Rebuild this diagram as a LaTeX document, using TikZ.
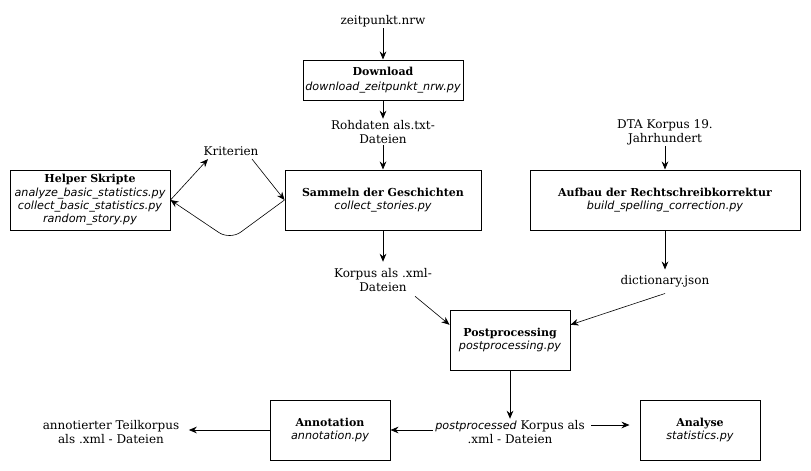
\documentclass[tikz,border=0pt]{standalone}
\usepackage{fontspec}
\setmainfont{DejaVu Serif}
\newfontfamily\itf{DejaVu Sans}
\usetikzlibrary{arrows.meta,calc}
\newcommand{\pyname}[1]{{\fontsize{8.4}{9.8}\itf\itshape #1}}
\newcommand{\boxtitle}[1]{{\fontsize{8.25}{9.8}\selectfont\bfseries #1}}
\tikzset{
  every node/.style={font=\fontsize{9}{10.5}\selectfont, align=center, inner sep=1pt},
  box/.style={draw, line width=0.75pt, minimum width=#1*0.75pt, minimum height=45pt, inner sep=0pt, font=\fontsize{8.4}{10}\selectfont},
  lbl/.style={inner sep=1pt},
  conn/.style={-{Stealth[length=6pt,width=5pt]}, line width=0.6pt},
  conn2/.style={-{Stealth[length=6pt,width=5pt]}, line width=0.45pt}
}
\begin{document}
\begin{tikzpicture}[x=0.75pt,y=-0.75pt]
\useasboundingbox (0,0) rectangle (811,471);
% boxes
\node[box=160, minimum height=30pt] (dl) at (383,80) {\boxtitle{Download}\\[1pt]\pyname{download\_zeitpunkt\_nrw.py}};
\node[box=160] (help) at (90,200) {\boxtitle{Helper Skripte}\\\pyname{analyze\_basic\_statistics.py}\\\pyname{collect\_basic\_statistics.py}\\\pyname{random\_story.py}};
\node[box=196] (sam) at (383,200) {\boxtitle{Sammeln der Geschichten}\\\pyname{collect\_stories.py}};
\node[box=270] (auf) at (665,200) {\boxtitle{Aufbau der Rechtschreibkorrektur}\\\pyname{build\_spelling\_correction.py}};
\node[box=120] (post) at (510,340) {\boxtitle{Postprocessing}\\\pyname{postprocessing.py}};
\node[box=120] (ann) at (330,430) {\boxtitle{Annotation}\\\pyname{annotation.py}};
\node[box=120] (ana) at (700,430) {\boxtitle{Analyse}\\\pyname{statistics.py}};
% labels
\node[lbl] (zp) at (383,21) {zeitpunkt.nrw};
\node[lbl] (roh) at (383,132) {Rohdaten als.txt-\\Dateien};
\node[lbl] (kri) at (231,151) {Kriterien};
\node[lbl] (dta) at (665,132) {DTA Korpus 19.\\Jahrhundert};
\node[lbl] (kor) at (383,280) {Korpus als .xml-\\Dateien};
\node[lbl] (dict) at (665,281) {dictionary.json};
\node[lbl] (pp) at (510,432) {\pyname{postprocessed} Korpus als\\.xml - Dateien};
\node[lbl] (at) at (111,432) {annotierter Teilkorpus\\als .xml - Dateien};
\coordinate (loop) at (230,240);
% connectors
\draw[conn] (zp) -- (dl);
\draw[conn] (dl) -- (roh);
\draw[conn] (roh) -- (sam);
\draw[conn2] (help.east) -- ($(kri.south west)+(6,2)$);
\draw[conn2] ($(kri.south east)+(-8,2)$) -- (sam.west);
\draw[conn2, rounded corners=10pt] (sam.west) -- (loop) -- (help.east);
\draw[conn] (sam) -- ($(kor.north)+(0,-5)$);
\draw[conn2] ($(kor.south)+(32,3)$) -- ($(post.north west)!0.25!(post.south west)$);
\draw[conn] (dta) -- (auf);
\draw[conn] (auf) -- ($(dict.north)+(0,-4)$);
\draw[conn2] ($(dict.south)+(0,5)$) -- ($(post.north east)!0.25!(post.south east)$);
\draw[conn] (post) -- (pp);
\draw[conn] ($(pp.west)+(-1,-2)$) -- (ann.east);
\draw[conn] ($(pp.east)+(5,-7)$) -- ($(ana.west)+(-10,-5)$);
\draw[conn] (ann.west) -- ($(at.east)+(8,-2)$);
\end{tikzpicture}
\end{document}
